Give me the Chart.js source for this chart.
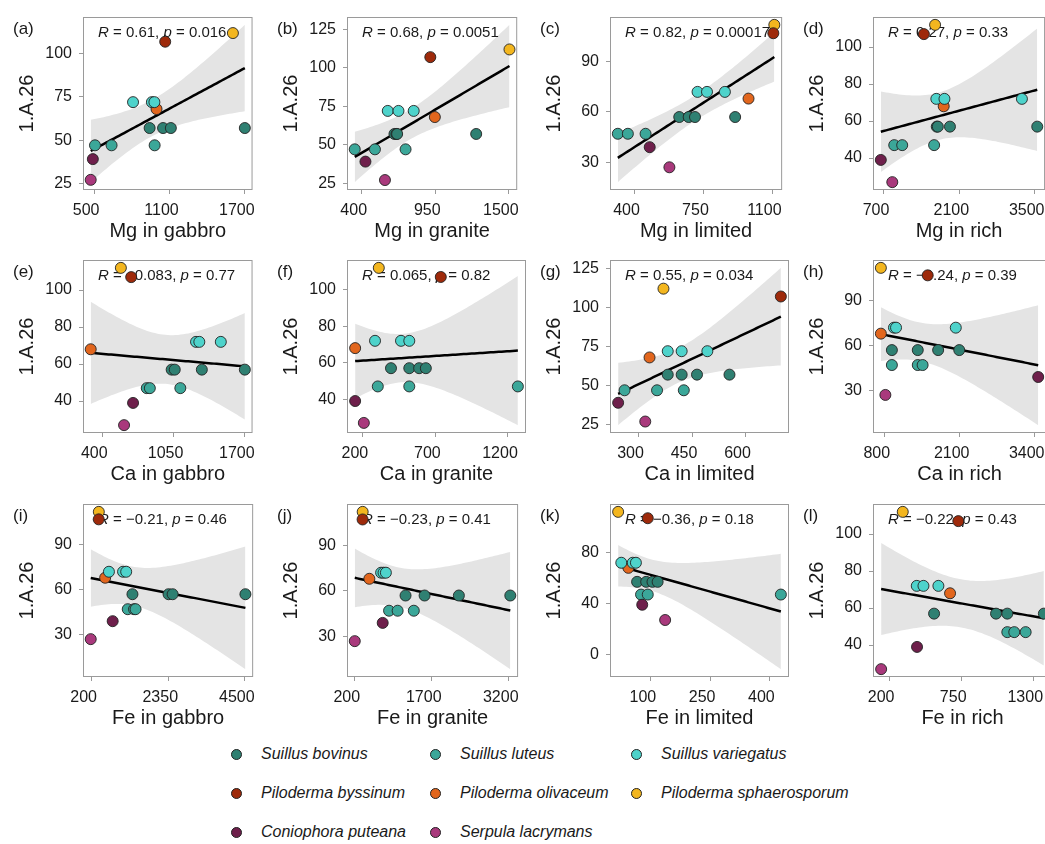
<!DOCTYPE html>
<html>
<head>
<meta charset="utf-8">
<script src="https://cdn.jsdelivr.net/npm/chart.js@4.4.1/dist/chart.umd.min.js"></script>
<style>
  html, body { margin: 0; padding: 0; background: #fff; }
  body { width: 1045px; height: 844px; position: relative; overflow: hidden;
         font-family: 'Liberation Sans', Arial, sans-serif; }
  canvas.panel { position: absolute; }
  .key-dot { position: absolute; width: 11px; height: 11px; border-radius: 50%;
             box-sizing: border-box; border: 1px solid #222; }
  .key-txt { position: absolute; font-style: italic; font-size: 16px; line-height: 20px;
             color: #1a1a1a; white-space: nowrap; }
</style>
</head>
<body>
<script>
// 1.A.26 count for each of the 15 genomes (same in every panel)
const yGenome = [112, 107, 68, 72, 72, 72, 57, 57, 57, 57, 47, 47, 47, 39, 27];
// species index of each genome (see speciesNames)
const genomeSpecies = [5, 3, 4, 2, 2, 2, 0, 0, 0, 0, 1, 1, 1, 6, 7];

const speciesNames = ['Suillus bovinus', 'Suillus luteus', 'Suillus variegatus',
  'Piloderma byssinum', 'Piloderma olivaceum', 'Piloderma sphaerosporum',
  'Coniophora puteana', 'Serpula lacrymans'];
const speciesColors = ['#2f8072', '#3ba799', '#4ed3cb', '#9e2a0b', '#e2661d', '#f3b61f', '#6e1f4b', '#a9397c'];

// x values per panel, genome order as yGenome
const mgGabbro  = [1605, 1066, 997, 810, 960, 980, 942, 1049, 1111, 1700, 507, 639, 982, 490, 473];
const mgGranite = [1505, 913, 947, 595, 675, 789, 645, 660, 665, 1256, 348, 499, 728, 428, 574];
const mgLimited = [1110, 1105, 979, 720, 768, 859, 627, 675, 707, 911, 315, 366, 456, 477, 577];
const mgRich    = [1649, 1441, 1809, 1672, 1823, 3262, 1680, 1700, 1925, 3547, 890, 1038, 1631, 641, 854];
const caGabbro  = [570, 664, 295, 1255, 1285, 1481, 1033, 1061, 1308, 1700, 806, 834, 1112, 681, 599];
const caGranite = [310, 737, 147, 284, 463, 520, 394, 520, 588, 634, 303, 520, 1268, 147, 207];
const caLimited = [370, 699, 331, 382, 421, 493, 382, 421, 464, 555, 261, 352, 427, 243, 319];
const caRich    = [733, 1545, 733, 960, 996, 2032, 924, 1373, 1726, 2092, 924, 1373, 1457, 3461, 811];
const feGabbro  = [401, 398, 579, 685, 1081, 1169, 1345, 2359, 2473, 4517, 1213, 1389, 1433, 790, 174];
const feGranite = [354, 352, 484, 713, 760, 806, 1189, 1560, 2228, 3230, 868, 1035, 1350, 744, 200];
const feLimited = [17, 92, 43, 25, 54, 62, 65, 88, 104, 117, 75, 92, 429, 78, 136];
const feRich    = [304, 728, 665, 411, 462, 576, 543, 1016, 1102, 1381, 1102, 1155, 1242, 413, 139];

const panelX = [mgGabbro, mgGranite, mgLimited, mgRich, caGabbro, caGranite, caLimited, caRich,
  feGabbro, feGranite, feLimited, feRich];
const panelLetters = ['a', 'b', 'c', 'd', 'e', 'f', 'g', 'h', 'i', 'j', 'k', 'l'];
const xTitles = ['Mg in gabbro', 'Mg in granite', 'Mg in limited', 'Mg in rich',
  'Ca in gabbro', 'Ca in granite', 'Ca in limited', 'Ca in rich',
  'Fe in gabbro', 'Fe in granite', 'Fe in limited', 'Fe in rich'];
const xTicks = [[500, 1100, 1700], [400, 950, 1500], [400, 750, 1100], [700, 2100, 3500],
  [400, 1050, 1700], [200, 700, 1200], [300, 450, 600], [800, 2100, 3400],
  [200, 2350, 4500], [200, 1700, 3200], [100, 250, 400], [200, 750, 1300]];
const yTicks = [[25, 50, 75, 100], [25, 50, 75, 100, 125], [30, 60, 90], [40, 60, 80, 100],
  [40, 60, 80, 100], [40, 60, 80, 100], [25, 50, 75, 100, 125], [30, 60, 90],
  [30, 60, 90], [30, 60, 90], [0, 40, 80], [40, 60, 80, 100]];
const rLabels = ['0.61', '0.68', '0.82', '0.27', '\u22120.083', '0.065', '0.55', '\u22120.24',
  '\u22120.21', '\u22120.23', '\u22120.36', '\u22120.22'];
const pLabels = ['0.016', '0.0051', '0.00017', '0.33', '0.77', '0.82', '0.034', '0.39',
  '0.46', '0.41', '0.18', '0.43'];

const FONT = "'Liberation Sans', Arial, sans-serif";
Chart.defaults.font.family = FONT;

// lm fit with 95% band, like geom_smooth(method = "lm")
function lmBand(xs, ys) {
  const n = xs.length;
  const mx = xs.reduce((a, b) => a + b, 0) / n;
  const my = ys.reduce((a, b) => a + b, 0) / n;
  let sxx = 0, sxy = 0;
  for (let i = 0; i < n; i++) {
    sxx += (xs[i] - mx) ** 2;
    sxy += (xs[i] - mx) * (ys[i] - my);
  }
  const b = sxy / sxx, a = my - b * mx;
  let rss = 0;
  for (let i = 0; i < n; i++) rss += (ys[i] - a - b * xs[i]) ** 2;
  const s = Math.sqrt(rss / (n - 2));
  const t = 2.1604; // qt(0.975, 13)
  const lo = Math.min(...xs), hi = Math.max(...xs);
  const fit = [], upper = [], lower = [];
  for (let k = 0; k <= 60; k++) {
    const x = lo + (hi - lo) * k / 60;
    const yh = a + b * x;
    const se = s * Math.sqrt(1 / n + (x - mx) ** 2 / sxx);
    fit.push({x: x, y: yh});
    upper.push({x: x, y: yh + t * se});
    lower.push({x: x, y: yh - t * se});
  }
  return {fit, upper, lower};
}

function expand(lo, hi) {
  const d = (hi - lo) * 0.05;
  return [lo - d, hi + d];
}

const panelDecor = {
  id: 'panelDecor',
  afterDatasetDraw(chart, args, o) {
    if (args.index !== 2) return;
    const {ctx, chartArea: a} = chart;
    ctx.save();
    ctx.fillStyle = '#1a1a1a';
    ctx.textBaseline = 'middle';
    let x = a.left + 15;
    const y = a.top + 15.5;
    const parts = [['R', true], [' = ' + o.r + ', ', false], ['p', true], [' = ' + o.p, false]];
    for (const [txt, it] of parts) {
      ctx.font = (it ? 'italic ' : '') + '15px ' + FONT;
      ctx.fillText(txt, x, y);
      x += ctx.measureText(txt).width;
    }
    ctx.restore();
  },
  afterDraw(chart, args, o) {
    const {ctx, chartArea: a} = chart;
    ctx.save();
    ctx.strokeStyle = '#9a9a9a';
    ctx.lineWidth = 1;
    ctx.strokeRect(a.left + 0.5, a.top + 0.5, a.right - a.left - 1, a.bottom - a.top - 1);
    ctx.fillStyle = '#1a1a1a';
    ctx.font = '17px ' + FONT;
    ctx.textBaseline = 'middle';
    ctx.fillText('(' + o.letter + ')', 13, a.top + 12);
    ctx.restore();
  }
};

const colLeft = [0, 264, 527, 790];
const rowTop = [0, 243, 487];

panelX.forEach((xs, i) => {
  const col = i % 4, row = Math.floor(i / 4);
  const cv = document.createElement('canvas');
  cv.className = 'panel';
  cv.width = 270; cv.height = 243;
  cv.style.left = colLeft[col] + 'px';
  cv.style.top = rowTop[row] + 'px';
  document.body.appendChild(cv);

  const band = lmBand(xs, yGenome);
  const [xMin, xMax] = expand(Math.min(...xs), Math.max(...xs));
  const allY = yGenome.concat(band.upper.map(p => p.y), band.lower.map(p => p.y));
  const [yMin, yMax] = expand(Math.min(...allY), Math.max(...allY));
  const pts = xs.map((x, k) => ({x: x, y: yGenome[k]}));
  const cols = genomeSpecies.map(s => speciesColors[s]);

  const axisCommon = {
    type: 'linear',
    border: {display: false},
    grid: {drawOnChartArea: false, drawTicks: true, tickLength: 4, color: '#9a9a9a', lineWidth: 1},
  };

  new Chart(cv, {
    type: 'scatter',
    data: {
      datasets: [
        {data: pts, pointRadius: 5.5, pointBackgroundColor: cols, pointBorderColor: '#222',
         pointBorderWidth: 0.9, pointHoverRadius: 5.5},
        {type: 'line', data: band.fit, pointRadius: 0, borderColor: '#000', borderWidth: 2.5, fill: false},
        {type: 'line', data: band.upper, pointRadius: 0, borderColor: 'rgba(0,0,0,0)', borderWidth: 1,
         backgroundColor: '#e4e4e4', fill: '+1'},
        {type: 'line', data: band.lower, pointRadius: 0, borderColor: 'rgba(0,0,0,0)', borderWidth: 1, fill: false}
      ]
    },
    options: {
      responsive: false,
      animation: false,
      devicePixelRatio: 1,
      events: [],
      layout: {padding: {left: 0, top: 17, right: 8, bottom: 0}},
      plugins: {
        legend: {display: false},
        tooltip: {enabled: false},
        panelDecor: {letter: panelLetters[i], r: rLabels[i], p: pLabels[i]}
      },
      scales: {
        x: Object.assign({}, axisCommon, {
          min: xMin, max: xMax,
          afterBuildTicks: s => { s.ticks = xTicks[i].map(v => ({value: v})); },
          afterFit: s => { s.height = 53; },
          ticks: {font: {size: 16}, color: '#1a1a1a', padding: 7, labelOffset: -8,
                  maxRotation: 0, autoSkip: false, callback: v => String(v)},
          title: {display: true, text: xTitles[i], font: {size: 20}, color: '#1a1a1a',
                  padding: {top: 0, bottom: 0}}
        }),
        y: Object.assign({}, axisCommon, {
          min: yMin, max: yMax,
          afterBuildTicks: s => { s.ticks = yTicks[i].map(v => ({value: v})); },
          afterFit: s => { s.width = 83; },
          ticks: {font: {size: 16}, color: '#1a1a1a', padding: 7, autoSkip: false,
                  callback: v => String(v)},
          title: {display: true, text: '1.A.26', font: {size: 20}, color: '#1a1a1a',
                  padding: {top: 15, bottom: 0}}
        })
      }
    },
    plugins: [panelDecor]
  });
});

// legend, three per row
const keyX = [236, 435, 636];
const keyY = [754, 793, 832];
speciesNames.forEach((name, s) => {
  const cx = keyX[s % 3], cy = keyY[Math.floor(s / 3)];
  const dot = document.createElement('div');
  dot.className = 'key-dot';
  dot.style.left = (cx - 5.5) + 'px';
  dot.style.top = (cy - 5.5) + 'px';
  dot.style.background = speciesColors[s];
  document.body.appendChild(dot);
  const t = document.createElement('div');
  t.className = 'key-txt';
  t.textContent = name;
  t.style.left = (cx + 25) + 'px';
  t.style.top = (cy - 10) + 'px';
  document.body.appendChild(t);
});
</script>
</body>
</html>
